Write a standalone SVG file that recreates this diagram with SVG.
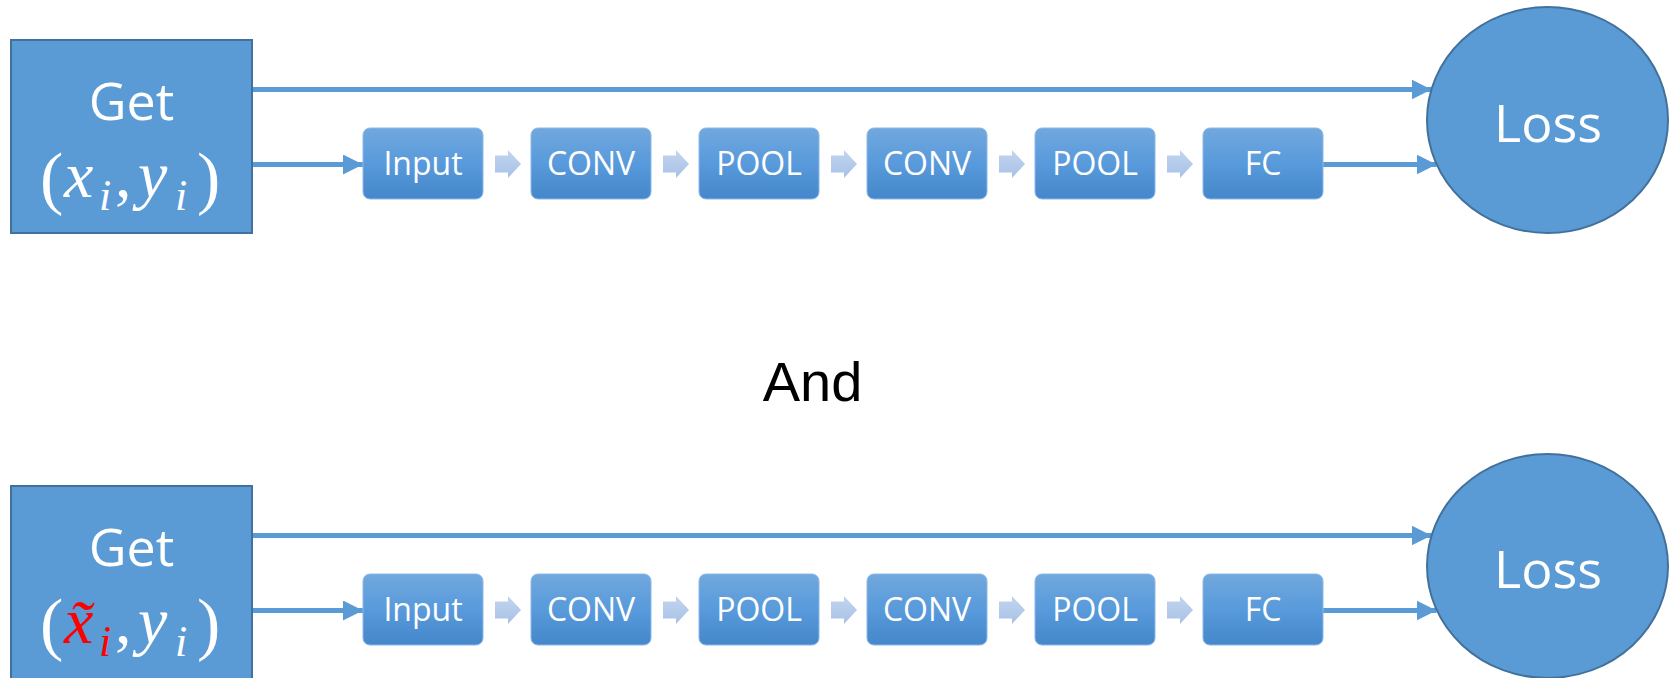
<svg xmlns="http://www.w3.org/2000/svg" width="1671" height="678" viewBox="0 0 1671 678">
  <defs>
    <linearGradient id="boxGrad" x1="0" y1="0" x2="0" y2="1">
      <stop offset="0" stop-color="#71A8DE"/>
      <stop offset="0.5" stop-color="#589ADB"/>
      <stop offset="1" stop-color="#4487CA"/>
    </linearGradient>
    <linearGradient id="chevGrad" x1="0" y1="0" x2="0" y2="1">
      <stop offset="0" stop-color="#C3D5EF"/>
      <stop offset="1" stop-color="#A7C1E6"/>
    </linearGradient>
    <marker id="arrow" markerUnits="userSpaceOnUse" markerWidth="20" markerHeight="20" refX="20" refY="10" orient="auto">
      <path d="M0,0 L20,10 L0,20 Z" fill="#5B9BD5"/>
    </marker>
    <path id="chev" d="M0,-8.5 L13,-8.5 L13,-14 L26,0 L13,14 L13,8.5 L0,8.5 Z"/>
  </defs>
  <style>
    .big { fill: #5B9BD5; stroke: #41719C; stroke-width: 2; }
    .step { fill: url(#boxGrad); stroke: #8DB8E6; stroke-width: 1; }
    .lbl { font-family: "Open Sans", "Noto Sans", sans-serif; fill: #FFFFFF; text-anchor: middle; }
    .steplbl { font-size: 32px; }
    .math { font-family: "Liberation Serif", "DejaVu Serif", serif; fill: #FFFFFF; }
    .it { font-style: italic; }
    .conn { stroke: #5B9BD5; stroke-width: 5; fill: none; }
    .chev { fill: url(#chevGrad); }
    .and { font-family: "Liberation Sans", Arial, sans-serif; font-size: 56px; fill: #000000; text-anchor: middle; }
  </style>
  <rect width="1671" height="678" fill="#FFFFFF"/>

  <!-- Connectors -->
  <g id="connectors">
    <line class="conn" x1="252" y1="89.5" x2="1431.5" y2="89.5" marker-end="url(#arrow)"/>
    <line class="conn" x1="252" y1="164.5" x2="363" y2="164.5" marker-end="url(#arrow)"/>
    <line class="conn" x1="1323" y1="164.5" x2="1436.5" y2="164.5" marker-end="url(#arrow)"/>
    <use href="#chev" class="chev" x="495" y="164"/>
    <use href="#chev" class="chev" x="663" y="164"/>
    <use href="#chev" class="chev" x="831" y="164"/>
    <use href="#chev" class="chev" x="999" y="164"/>
    <use href="#chev" class="chev" x="1167" y="164"/>

    <line class="conn" x1="252" y1="535.5" x2="1431.5" y2="535.5" marker-end="url(#arrow)"/>
    <line class="conn" x1="252" y1="610.5" x2="363" y2="610.5" marker-end="url(#arrow)"/>
    <line class="conn" x1="1323" y1="610.5" x2="1436.5" y2="610.5" marker-end="url(#arrow)"/>
    <use href="#chev" class="chev" x="495" y="610"/>
    <use href="#chev" class="chev" x="663" y="610"/>
    <use href="#chev" class="chev" x="831" y="610"/>
    <use href="#chev" class="chev" x="999" y="610"/>
    <use href="#chev" class="chev" x="1167" y="610"/>
  </g>

  <!-- Top row -->
  <g id="get-top">
    <rect class="big" x="11" y="40" width="241" height="193"/>
    <text class="lbl" x="131.5" y="120" font-size="52">Get</text>
    <text class="math" font-size="66">
      <tspan x="40" y="201" font-size="70">(</tspan><tspan class="it" x="64" y="197">x</tspan><tspan class="it" x="99" y="210" font-size="44">i</tspan><tspan x="115" y="197">,</tspan><tspan class="it" x="138" y="197">y</tspan><tspan class="it" x="175" y="210" font-size="44">i</tspan><tspan x="197" y="201" font-size="70">)</tspan>
    </text>
  </g>
  <g id="input-top"><rect class="step" x="363" y="128" width="120" height="71" rx="7"/><text class="lbl steplbl" x="423" y="175">Input</text></g>
  <g id="conv1-top"><rect class="step" x="531" y="128" width="120" height="71" rx="7"/><text class="lbl steplbl" x="591" y="175">CONV</text></g>
  <g id="pool1-top"><rect class="step" x="699" y="128" width="120" height="71" rx="7"/><text class="lbl steplbl" x="759" y="175">POOL</text></g>
  <g id="conv2-top"><rect class="step" x="867" y="128" width="120" height="71" rx="7"/><text class="lbl steplbl" x="927" y="175">CONV</text></g>
  <g id="pool2-top"><rect class="step" x="1035" y="128" width="120" height="71" rx="7"/><text class="lbl steplbl" x="1095" y="175">POOL</text></g>
  <g id="fc-top"><rect class="step" x="1203" y="128" width="120" height="71" rx="7"/><text class="lbl steplbl" x="1263" y="175">FC</text></g>
  <g id="loss-top">
    <ellipse class="big" cx="1547.5" cy="120" rx="120.5" ry="113"/>
    <text class="lbl" x="1548" y="141.5" font-size="52">Loss</text>
  </g>

  <g id="and-label"><text class="and" x="812.5" y="401">And</text></g>

  <!-- Bottom row -->
  <g id="get-bottom">
    <rect class="big" x="11" y="486" width="241" height="193"/>
    <text class="lbl" x="131.5" y="566" font-size="52">Get</text>
    <text class="math" font-size="66">
      <tspan x="40" y="647" font-size="70">(</tspan><tspan class="it" x="64" y="643" fill="#FF0000">x̃</tspan><tspan class="it" x="99" y="656" font-size="44" fill="#FF0000">i</tspan><tspan x="115" y="643">,</tspan><tspan class="it" x="138" y="643">y</tspan><tspan class="it" x="175" y="656" font-size="44">i</tspan><tspan x="197" y="647" font-size="70">)</tspan>
    </text>
  </g>
  <g id="input-bottom"><rect class="step" x="363" y="574" width="120" height="71" rx="7"/><text class="lbl steplbl" x="423" y="621">Input</text></g>
  <g id="conv1-bottom"><rect class="step" x="531" y="574" width="120" height="71" rx="7"/><text class="lbl steplbl" x="591" y="621">CONV</text></g>
  <g id="pool1-bottom"><rect class="step" x="699" y="574" width="120" height="71" rx="7"/><text class="lbl steplbl" x="759" y="621">POOL</text></g>
  <g id="conv2-bottom"><rect class="step" x="867" y="574" width="120" height="71" rx="7"/><text class="lbl steplbl" x="927" y="621">CONV</text></g>
  <g id="pool2-bottom"><rect class="step" x="1035" y="574" width="120" height="71" rx="7"/><text class="lbl steplbl" x="1095" y="621">POOL</text></g>
  <g id="fc-bottom"><rect class="step" x="1203" y="574" width="120" height="71" rx="7"/><text class="lbl steplbl" x="1263" y="621">FC</text></g>
  <g id="loss-bottom">
    <ellipse class="big" cx="1547.5" cy="566" rx="120.5" ry="112"/>
    <text class="lbl" x="1548" y="587.5" font-size="52">Loss</text>
  </g>
</svg>
